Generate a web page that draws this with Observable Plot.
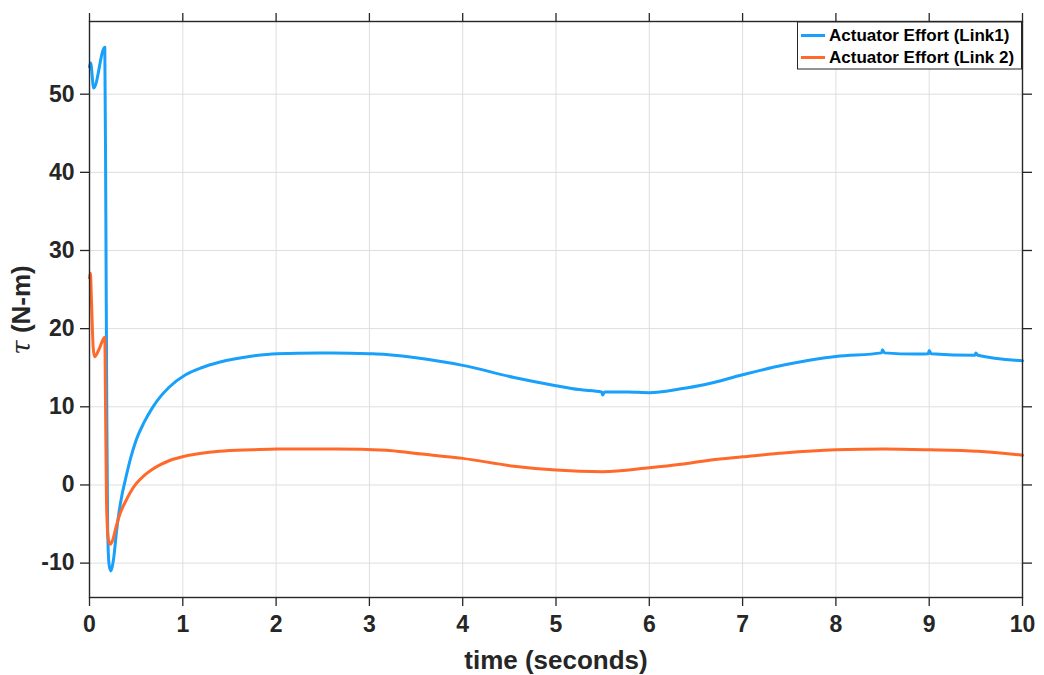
<!DOCTYPE html>
<html>
<head>
<meta charset="utf-8">
<script src="https://cdn.jsdelivr.net/npm/d3@7"></script>
<script src="https://cdn.jsdelivr.net/npm/@observablehq/plot@0.6"></script>
<style>
  html, body { margin: 0; padding: 0; background: #fff; }
</style>
</head>
<body>
<div id="chart"></div>
<script>
// ---- data ----
const seriesNames = ["Actuator Effort (Link1)", "Actuator Effort (Link 2)"];
const seriesColors = ["#18a0fb", "#ff6a2b"];

const link1T = [0, 0.012, 0.045, 0.164, 0.175, 0.185, 0.195, 0.21, 0.228, 0.245, 0.26, 0.29, 0.315, 0.343, 0.389, 0.44, 0.496, 0.585, 0.675, 0.76, 0.853, 1.03, 1.2, 1.39, 1.75, 2.01, 2.46, 2.6, 3.0, 3.18, 3.48, 4.0, 4.55, 5.0, 5.25, 5.49, 5.5, 5.52, 5.77, 6.0, 6.34, 6.6, 7.0, 7.44, 8.0, 8.49, 8.5, 8.52, 8.87, 8.99, 9.0, 9.02, 9.49, 9.5, 9.52, 10];
const link1V = [53.5, 54.0, 50.8, 56.0, 35, 10, -6, -10.2, -11.0, -10.4, -9.3, -5.9, -3.6, -1.6, 0.9, 3.4, 5.6, 8.0, 9.9, 11.3, 12.5, 14.1, 15.0, 15.7, 16.5, 16.8, 16.9, 16.9, 16.8, 16.7, 16.3, 15.3, 13.75, 12.7, 12.2, 11.9, 11.5, 11.9, 11.9, 11.8, 12.3, 12.85, 14.1, 15.35, 16.45, 16.9, 17.3, 16.9, 16.75, 16.8, 17.2, 16.8, 16.6, 16.9, 16.6, 15.9];

const link2T = [0, 0.01, 0.02, 0.04, 0.055, 0.1, 0.164, 0.172, 0.182, 0.2, 0.222, 0.25, 0.282, 0.33, 0.389, 0.44, 0.496, 0.585, 0.675, 0.76, 0.853, 1.03, 1.2, 1.39, 1.75, 2.01, 2.64, 3.18, 3.48, 4.0, 4.55, 5.0, 5.5, 6.0, 6.34, 6.66, 7.0, 7.44, 8.0, 8.52, 9.0, 9.52, 10];
const link2V = [26.5, 27.1, 24.0, 17.5, 16.4, 17.3, 18.9, 10, -2, -6.8, -7.6, -7.0, -5.5, -3.6, -2.05, -0.9, 0.1, 1.2, 2.0, 2.6, 3.1, 3.7, 4.05, 4.3, 4.5, 4.6, 4.6, 4.45, 4.05, 3.4, 2.4, 1.9, 1.7, 2.2, 2.65, 3.2, 3.6, 4.1, 4.5, 4.6, 4.5, 4.3, 3.8];

const xTicks = [0, 1, 2, 3, 4, 5, 6, 7, 8, 9, 10];
const yTicks = [-10, 0, 10, 20, 30, 40, 50];
const xLabel = "time (seconds)";
const yLabelSymbol = "τ";
const yLabelRest = " (N-m)";

// ---- table for Plot ----
const rows = [
  ...link1T.map((t, i) => ({t, v: link1V[i], series: seriesNames[0]})),
  ...link2T.map((t, i) => ({t, v: link2V[i], series: seriesNames[1]}))
];

const font = "'Liberation Sans', Arial, Helvetica, sans-serif";
const ink = "#262626";

const chart = Plot.plot({
  width: 1044,
  height: 675,
  marginLeft: 89,
  marginRight: 22,
  marginTop: 21,
  marginBottom: 78,
  style: {fontFamily: font, color: ink, background: "#fff"},
  x: {domain: [0, 10]},
  y: {domain: [-14.4, 59.3]},
  color: {domain: seriesNames, range: seriesColors},
  marks: [
    Plot.gridX(xTicks, {stroke: "#dedede", strokeOpacity: 1, strokeWidth: 1}),
    Plot.gridY(yTicks, {stroke: "#dedede", strokeOpacity: 1, strokeWidth: 1}),
    Plot.line(rows, {x: "t", y: "v", z: "series", stroke: "series", strokeWidth: 3, curve: "monotone-x"}),
    Plot.frame({stroke: ink, strokeWidth: 1.4}),
    Plot.axisX(xTicks, {anchor: "bottom", tickSize: 9, tickPadding: 9, tickFormat: d => String(d), fontSize: 23, fontWeight: "bold", stroke: ink, strokeWidth: 1.3, label: null}),
    Plot.axisX(xTicks, {anchor: "top", tickSize: 9, tickFormat: () => "", stroke: ink, strokeWidth: 1.3, label: null}),
    Plot.axisY(yTicks, {anchor: "left", tickSize: 9, tickPadding: 6, tickFormat: d => String(d), fontSize: 23, fontWeight: "bold", stroke: ink, strokeWidth: 1.3, label: null}),
    Plot.axisY(yTicks, {anchor: "right", tickSize: 9, tickFormat: () => "", stroke: ink, strokeWidth: 1.3, label: null}),
    Plot.text([xLabel], {frameAnchor: "bottom", dy: 71, fontSize: 26, fontWeight: "bold", fill: ink})
  ]
});

document.getElementById("chart").appendChild(chart);

// ---- y label with italic tau ----
const svg = d3.select(chart);
const yl = svg.append("text")
  .attr("transform", "translate(30,310) rotate(-90)")
  .attr("text-anchor", "middle")
  .attr("font-family", font)
  .attr("font-size", 26)
  .attr("font-weight", "bold")
  .attr("fill", ink);
yl.append("tspan").attr("font-family", "'DejaVu Serif', serif").attr("font-style", "italic").attr("font-weight", "normal").text(yLabelSymbol);
yl.append("tspan").text(yLabelRest);

// ---- legend box (top-right, inside axes) ----
const lg = svg.append("g").attr("font-family", font).attr("text-anchor", "start");
lg.append("rect").attr("x", 797.5).attr("y", 22).attr("width", 224).attr("height", 47)
  .attr("fill", "#fff").attr("stroke", ink).attr("stroke-width", 1);
seriesNames.forEach((name, i) => {
  const cy = 35.5 + i * 22;
  lg.append("line").attr("x1", 801).attr("x2", 825).attr("y1", cy).attr("y2", cy)
    .attr("stroke", seriesColors[i]).attr("stroke-width", 3);
  lg.append("text").attr("x", 829).attr("y", cy).attr("dy", "0.35em")
    .attr("text-anchor", "start")
    .attr("font-size", 17).attr("font-weight", "bold").attr("fill", "#000").text(name);
});
</script>
</body>
</html>
